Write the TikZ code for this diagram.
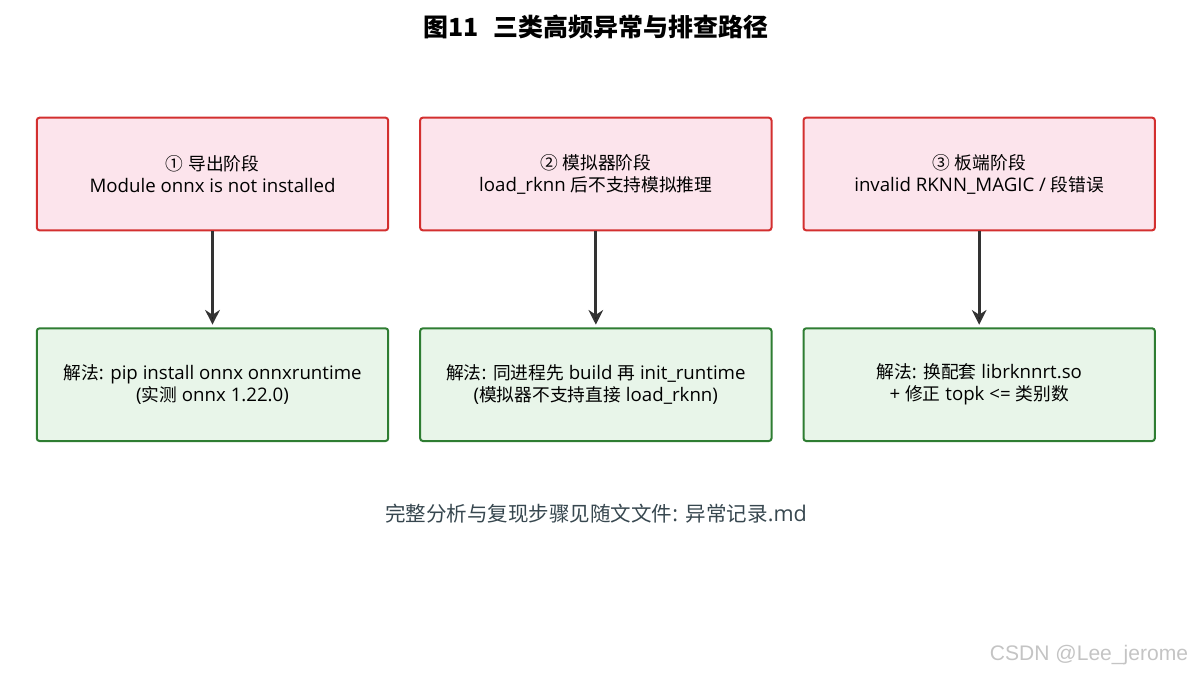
\documentclass[tikz,border=0pt]{standalone}
\usepackage{fontspec}
\setmainfont{Open Sans}
\newfontfamily\zh[Scale=0.95]{Noto Sans CJK SC}
\newfontfamily\markfont{Liberation Sans}
\usetikzlibrary{positioning}
\usetikzlibrary{arrows.meta}
\usepackage{xcolor}
\definecolor{errdraw}{HTML}{D32F2F}
\definecolor{errfill}{HTML}{FCE4EC}
\definecolor{fixdraw}{HTML}{2E7D32}
\definecolor{fixfill}{HTML}{E8F5E9}
\definecolor{arrowgray}{HTML}{333333}
\definecolor{notegray}{HTML}{37474F}
\definecolor{markgray}{HTML}{C4C4C4}

\begin{document}
\begin{tikzpicture}[
        x=0.75pt, y=-0.75pt,
        errnode/.style={rectangle, rounded corners=2pt, draw=errdraw, fill=errfill, line width=1.5pt,
            minimum width=263.5pt, minimum height=84.5pt, align=center, font=\fontsize{14}{16.5}\selectfont},
        fixnode/.style={errnode, draw=fixdraw, fill=fixfill},
        node distance=72pt and 22.5pt,
        ->, >={Stealth[length=11pt,width=11pt]}, shorten >=2pt
    ]
        \useasboundingbox (0,0) rectangle (1192,675);

        \node[font=\zh\bfseries\fontsize{19.7}{22}\selectfont] (title) at (596,27) {图11\hspace{0.6em}三类高频异常与排查路径};

        \node[errnode] (E1) at (212.5,174) {{\zh ①} {\zh 导出阶段}\\Module onnx is not installed};
        \node[errnode] (E2) [right=of E1] {{\zh ②} {\zh 模拟器阶段}\\load\_rknn {\zh 后不支持模拟推理}};
        \node[errnode] (E3) [right=of E2] {{\zh ③} {\zh 板端阶段}\\invalid RKNN\_MAGIC / {\zh 段错误}};

        \node[fixnode] (F1) [below=of E1] {{\zh 解法}: pip install onnx onnxruntime\\({\zh 实测} onnx 1.22.0)};
        \node[fixnode] (F2) [below=of E2] {{\zh 解法}: {\zh 同进程先} build {\zh 再} init\_runtime\\({\zh 模拟器不支持直接} load\_rknn)};
        \node[fixnode] (F3) [below=of E3] {{\zh 解法}: {\zh 换配套} librknnrt.so\\+ {\zh 修正} topk <= {\zh 类别数}};

        \path[draw=arrowgray, line width=2.25pt]
            (E1) edge (F1)
            (E2) edge (F2)
            (E3) edge (F3);

        \node[text=notegray, font=\fontsize{16.2}{18}\selectfont] (note) at (596,514) {{\zh 完整分析与复现步骤见随文文件}: {\zh 异常记录}.md};
        \node[text=markgray, font=\markfont\fontsize{15.8}{17}\selectfont] (mark) at (1089,655) {CSDN @Lee\_jerome};
    \end{tikzpicture}
\end{document}
